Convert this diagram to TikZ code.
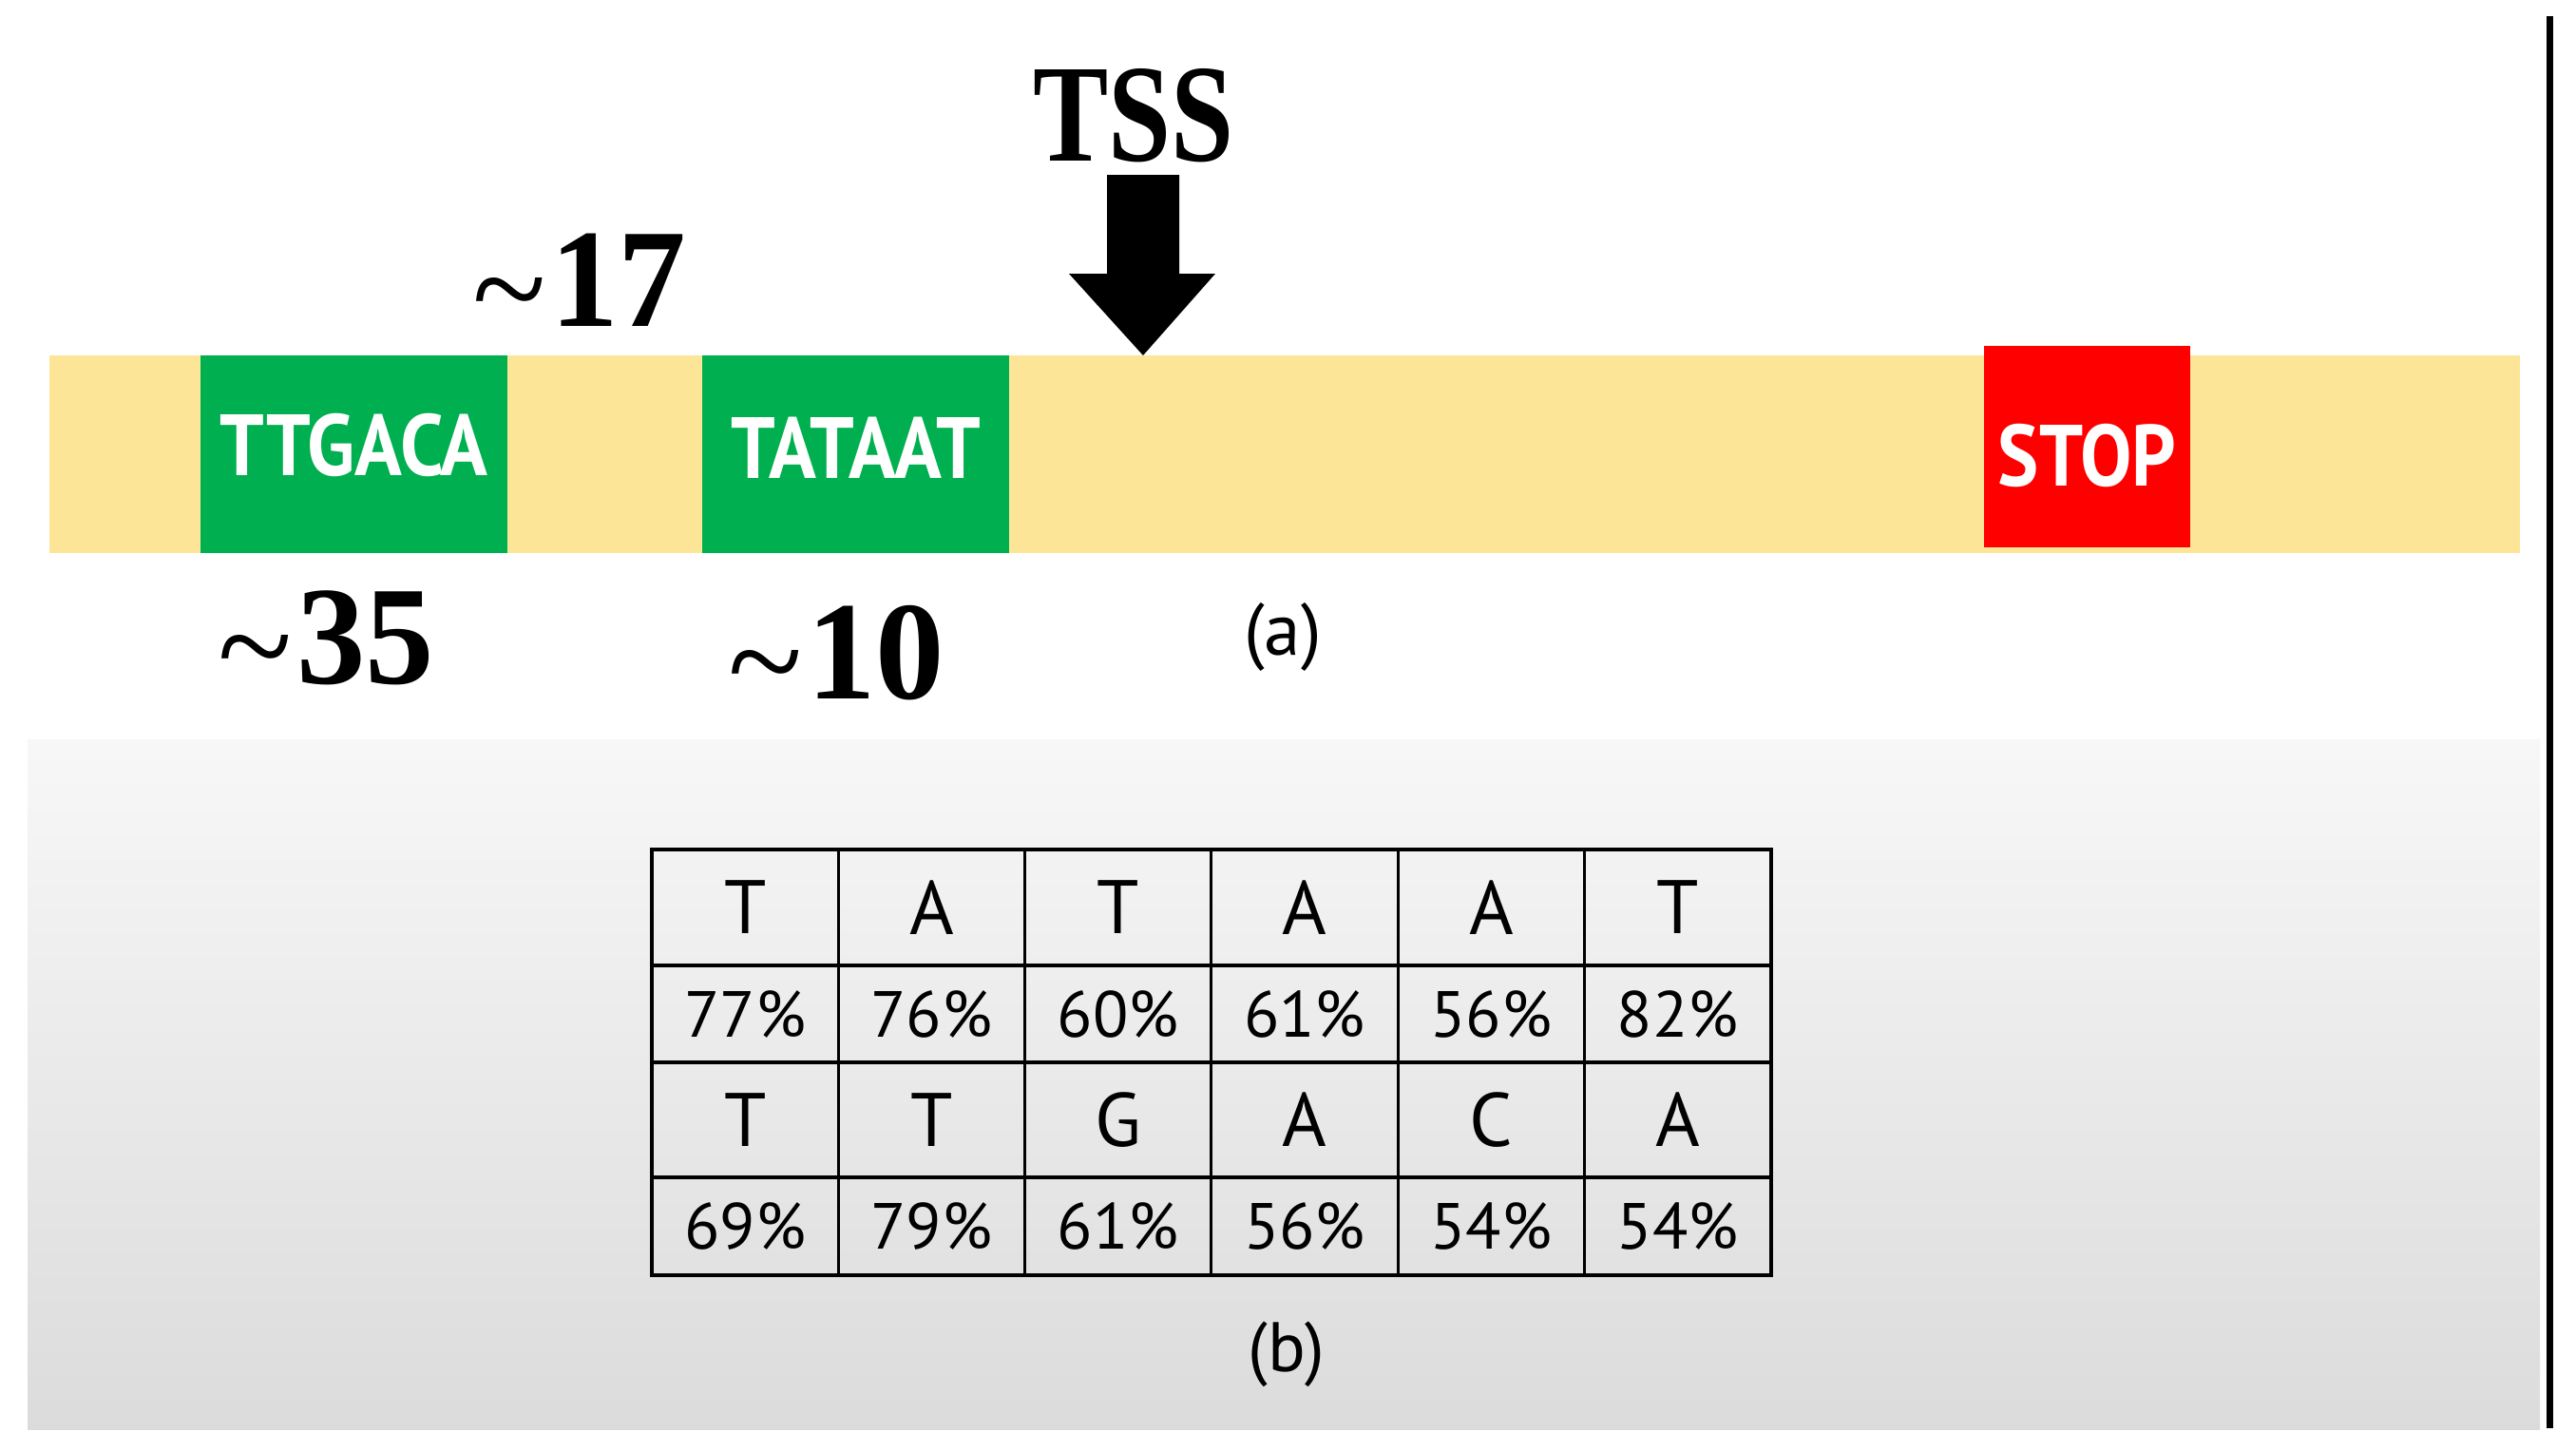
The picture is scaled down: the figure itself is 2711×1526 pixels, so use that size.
\documentclass[tikz,border=0pt]{standalone}
\usepackage{fontspec}
\setmainfont{Liberation Serif}
\newfontfamily\comic{PT Sans}
\definecolor{dnabar}{HTML}{FDE598}
\definecolor{boxgreen}{HTML}{00B050}
\definecolor{stopred}{HTML}{FF0000}
\newcommand{\lowtilde}{\raisebox{-0.07em}{\mdseries\textasciitilde}\kern0.03em}
\begin{document}
\begin{tikzpicture}[x=0.01cm,y=-0.01cm,
  motif/.style={fill=boxgreen,draw=none,inner sep=0pt,minimum width=3.23cm,minimum height=2.08cm,text=white,
    font=\comic\bfseries\fontsize{26}{30}\selectfont,text height=0.65cm},
  stopbox/.style={fill=stopred,draw=none,inner sep=0pt,minimum width=2.17cm,minimum height=2.12cm,text=white,
    font=\comic\bfseries\fontsize{26}{30}\selectfont,text height=0.82cm,text depth=0pt},
  bignum/.style={inner sep=0pt,anchor=base,font=\bfseries\fontsize{42}{48}\selectfont},
  caption/.style={inner sep=0pt,font=\comic\fontsize{22}{26}\selectfont},
  letter/.style={inner sep=0pt,font=\comic\fontsize{22.7}{26}\selectfont},
  pct/.style={inner sep=0pt,font=\comic\fontsize{19.5}{24}\selectfont},
  tableline/.style={draw=black,line width=0.9pt}]
\useasboundingbox (0,0) rectangle (2711,1526);
\fill[white] (0,0) rectangle (2711,1526);
% gradient panel
\shade[top color=black!3,bottom color=black!14] (29,778) rectangle (2673,1504);
% right border line
\draw[line width=2pt] (2683,17) -- (2683,1503);
% DNA bar
\fill[dnabar] (52,374) rectangle (2652,582);
\node[motif,text depth=0.21cm] (m35) at (372.5,478) {\scalebox{0.9}[1]{TTGACA}};
\node[motif,text depth=0.15cm] (m10) at (900.5,478) {\scalebox{0.9}[1]{TATAAT}};
\node[stopbox] (stop) at (2196.5,470) {\scalebox{0.89}[1]{STOP}};
% TSS arrow
\node[inner sep=0pt,anchor=base,font=\bfseries\fontsize{41.7}{48}\selectfont] (tss) at (1193,169) {\scalebox{0.81}[1]{TSS}};
\coordinate (tip) at (1203,374);
\fill[black] (1165,184) -- (1241,184) -- (1241,288) -- (1279,288) -- (tip) -- (1125,288) -- (1165,288) -- cycle;
% position labels
\node[bignum] (n17) at (610,343) {\scalebox{0.97}[1]{\lowtilde17}};
\node[bignum] (n35) at (343.5,719) {\scalebox{0.98}[1]{\lowtilde35}};
\node[bignum] (n10) at (880.5,735) {\scalebox{0.98}[1]{\lowtilde10}};
\node[caption] (capa) at (1350,670) {(a)};
% table
\draw[tableline] (686,894) rectangle (1864,1342);
\foreach \k in {1,...,5} \draw[tableline] ({686+196.3*\k},894) -- ({686+196.3*\k},1342);
\foreach \yy in {1016,1118,1239} \draw[tableline] (686,\yy) -- (1864,\yy);
\foreach \l [count=\i] in {T,A,T,A,A,T}
  \node[letter] (ra\i) at ({686+196.3*(\i-0.5)},955) {\l};
\foreach \l [count=\i] in {77\%,76\%,60\%,61\%,56\%,82\%}
  \node[pct] (rb\i) at ({686+196.3*(\i-0.5)},1067) {\l};
\foreach \l [count=\i] in {T,T,G,A,C,A}
  \node[letter] (rc\i) at ({686+196.3*(\i-0.5)},1178.5) {\l};
\foreach \l [count=\i] in {69\%,79\%,61\%,56\%,54\%,54\%}
  \node[pct] (rd\i) at ({686+196.3*(\i-0.5)},1290.5) {\l};
\node[caption,font=\comic\fontsize{21}{25}\selectfont] (capb) at (1354,1425) {(b)};
\end{tikzpicture}
\end{document}
